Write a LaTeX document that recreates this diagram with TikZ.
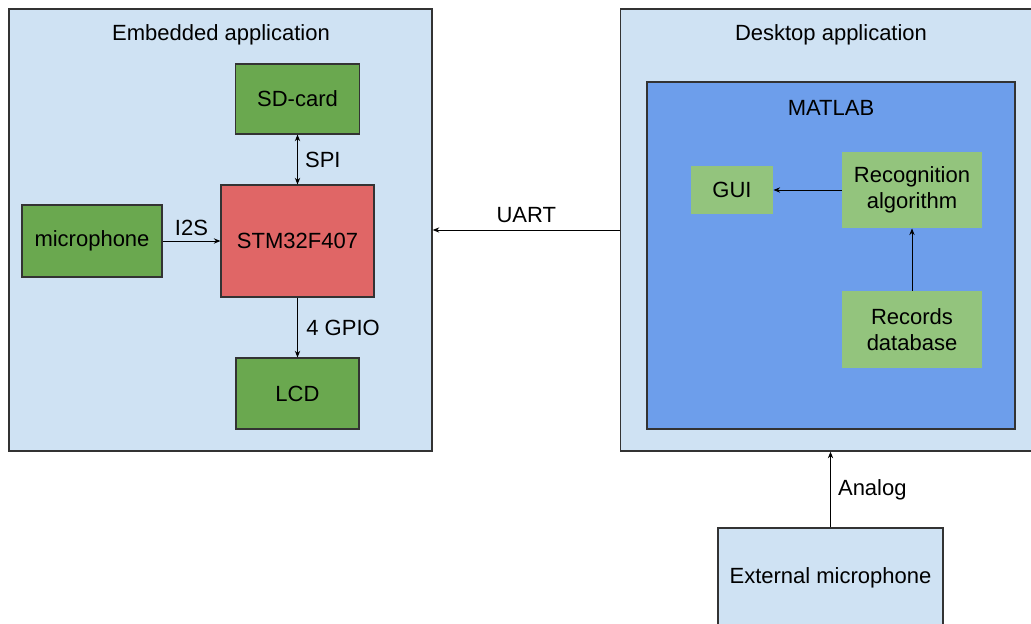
\documentclass[tikz,border=0pt]{standalone}
\usepackage{fontspec}
\setmainfont{Liberation Sans}
\usetikzlibrary{arrows.meta,positioning}
\definecolor{paleblue}{HTML}{CFE2F3}
\definecolor{matlabblue}{HTML}{6D9EEB}
\definecolor{darkgreen}{HTML}{6AA84F}
\definecolor{lightgreen}{HTML}{93C47D}
\definecolor{chipred}{HTML}{E06666}
\tikzset{
	app box/.style={rectangle,draw=black!80,fill=paleblue,line width=1pt,inner sep=0pt},
	matlab box/.style={rectangle,draw=black!80,fill=matlabblue,line width=1pt,inner sep=0pt},
	hw node/.style={rectangle,draw=black!80,fill=darkgreen,line width=0.8pt,inner sep=0pt,font=\fontsize{16.5}{19.5}\selectfont},
	sw node/.style={rectangle,fill=lightgreen,inner sep=0pt,align=center,font=\fontsize{16.5}{19.5}\selectfont},
	title/.style={font=\fontsize{16.5}{19.5}\selectfont},
	link/.style={font=\fontsize{16.5}{19.5}\selectfont}
}

\begin{document}
\begin{tikzpicture}[x=0.75pt,y=-0.75pt,-{Stealth[length=5pt,width=4pt]},line width=0.7pt]
	\useasboundingbox (0,0) rectangle (1031,624);
	% containers
	\node[app box,minimum width=317.25pt,minimum height=331.5pt] (embedded) at (220.5,230) {};
	\node[app box,minimum width=308.25pt,minimum height=331.5pt] (desktop) at (826,230) {};
	\node[matlab box,minimum width=276pt,minimum height=260.25pt] (matlab) at (831,255.5) {};
	\node[title] (t1) at (221,35) {Embedded application};
	\node[title] (t2) at (831,35) {Desktop application};
	\node[title] (t3) at (831,108) {MATLAB};

	% embedded side
	\node[hw node,fill=chipred,minimum width=114.75pt,minimum height=84pt] (stm) at (297.5,241) {STM32F407};
	\node[hw node,minimum width=93pt,minimum height=52.5pt] (sdcard) at (297.5,99) {SD-card};
	\node[hw node,minimum width=105pt,minimum height=54pt] (mic) at (92,241) {microphone};
	\node[hw node,minimum width=92.25pt,minimum height=53.25pt] (lcd) at (297.5,393.5) {LCD};

	% desktop side
	\node[sw node,minimum width=61.5pt,minimum height=35.25pt] (gui) at (732,190) {GUI};
	\node[sw node,minimum width=105pt,minimum height=57pt] (recog) at (912,190) {Recognition\\algorithm};
	\node[sw node,minimum width=105pt,minimum height=57.75pt] (records) at (912,329.5) {Records\\database};
	\node[app box,minimum width=168.75pt,minimum height=75pt,font=\fontsize{16.5}{19.5}\selectfont] (extmic) at (830.5,578) {External microphone};

	\path[every node/.style={link}]
		(sdcard) edge[{Stealth[length=5pt,width=4pt]}-{Stealth[length=5pt,width=4pt]}] node[right=2pt] {SPI} (stm)
		(mic) edge node[above] {I2S} (stm)
		(stm) edge node[right=3pt] {4 GPIO} (lcd)
		(desktop.west) edge node[above=2pt] {UART} (embedded.east)
		(recog) edge (gui)
		(records) edge (recog)
		(extmic) edge node[right=2pt] {Analog} (desktop.south -| extmic.north);
\end{tikzpicture}
\end{document}
